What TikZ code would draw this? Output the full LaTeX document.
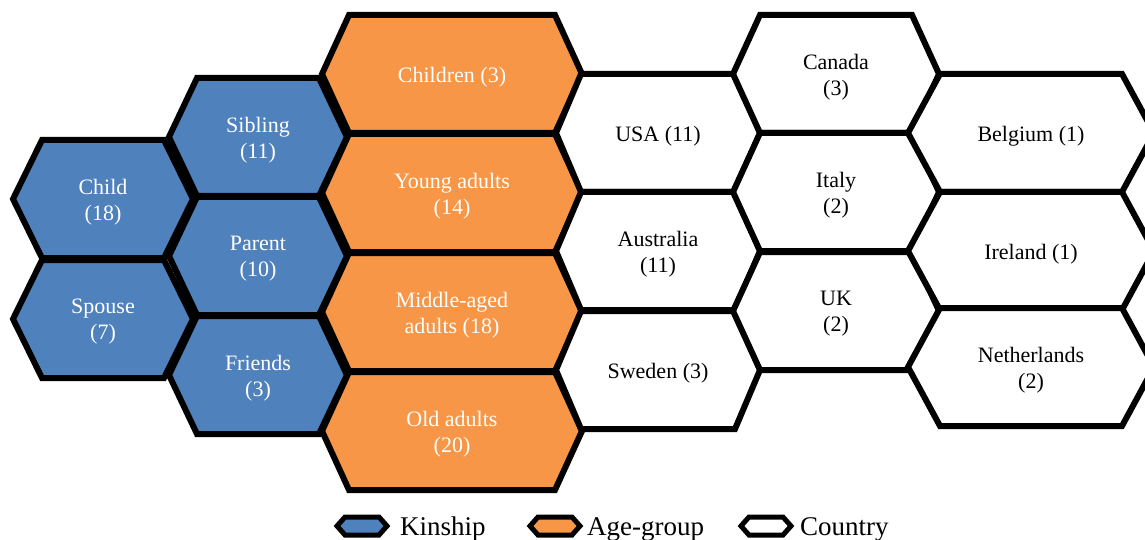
\documentclass[tikz,border=0pt]{standalone}
\usepackage{fontspec}
\setmainfont{Liberation Serif}
\definecolor{kin}{HTML}{4F81BD}
\definecolor{age}{HTML}{F79646}
\tikzset{
  hexline/.style={line width=6pt, line join=miter, draw=black},
  iconline/.style={line width=5pt, line join=miter, draw=black},
  hextext/.style={align=center, font=\fontsize{22}{26}\selectfont, inner sep=0pt},
  legtext/.style={anchor=base west, font=\fontsize{27}{30}\selectfont, inner sep=0pt}
}
% name, cx, cy, halfwidth, inset, fill, textcolour, text
\newcommand\hexcell[8]{%
  \filldraw[hexline, fill=#6] (#2-#4,#3) -- (#2-#4+#5,#3-59) -- (#2+#4-#5,#3-59)
     -- (#2+#4,#3) -- (#2+#4-#5,#3+59) -- (#2-#4+#5,#3+59) -- cycle;
  \node[hextext, text=#7] (#1) at (#2,#3+3) {#8};
}
% name, cx, cy, fill
\newcommand\hexicon[4]{%
  \filldraw[iconline, fill=#4] (#2-25,#3) -- (#2-17,#3-9) -- (#2+17,#3-9)
     -- (#2+25,#3) -- (#2+17,#3+9) -- (#2-17,#3+9) -- cycle;
  \coordinate (#1) at (#2,#3);
}
\begin{document}
\begin{tikzpicture}[x=1pt,y=-1pt]
\useasboundingbox (0,0) rectangle (1145,540);
% Kinship
\hexcell{child}{103}{199}{90}{29}{kin}{white}{Child\\(18)}
\hexcell{spouse}{103}{319}{90}{29}{kin}{white}{Spouse\\(7)}
\hexcell{sibling}{258}{137}{89}{28}{kin}{white}{Sibling\\(11)}
\hexcell{parent}{258}{256}{89}{28}{kin}{white}{Parent\\(10)}
\hexcell{friends}{258}{375}{89}{28}{kin}{white}{Friends\\(3)}
% Age group
\hexcell{children}{452}{74}{130}{27}{age}{white}{Children (3)}
\hexcell{young}{452}{193}{130}{27}{age}{white}{Young adults\\(14)}
\hexcell{middle}{452}{312}{130}{27}{age}{white}{Middle-aged\\adults (18)}
\hexcell{old}{452}{431}{130}{27}{age}{white}{Old adults\\(20)}
% Country
\hexcell{usa}{658}{133}{102}{25}{white}{black}{USA (11)}
\hexcell{australia}{658}{251}{102}{25}{white}{black}{Australia\\(11)}
\hexcell{sweden}{658}{370}{102}{25}{white}{black}{Sweden (3)}
\hexcell{canada}{836}{74}{103}{27}{white}{black}{Canada\\(3)}
\hexcell{italy}{836}{192}{103}{27}{white}{black}{Italy\\(2)}
\hexcell{uk}{836}{311}{103}{27}{white}{black}{UK\\(2)}
\hexcell{belgium}{1031}{133}{123}{32}{white}{black}{Belgium (1)}
\hexcell{ireland}{1031}{251}{123}{32}{white}{black}{Ireland (1)}
\hexcell{netherlands}{1031}{367}{123}{32}{white}{black}{Netherlands\\(2)}
% Legend
\hexicon{ik}{362}{526}{kin}
\node[legtext] (lk) at (400,535) {Kinship};
\hexicon{ia}{555}{526}{age}
\node[legtext] (la) at (587,535) {Age-group};
\hexicon{ic}{766}{526}{white}
\node[legtext] (lc) at (800,535) {Country};
\end{tikzpicture}
\end{document}
